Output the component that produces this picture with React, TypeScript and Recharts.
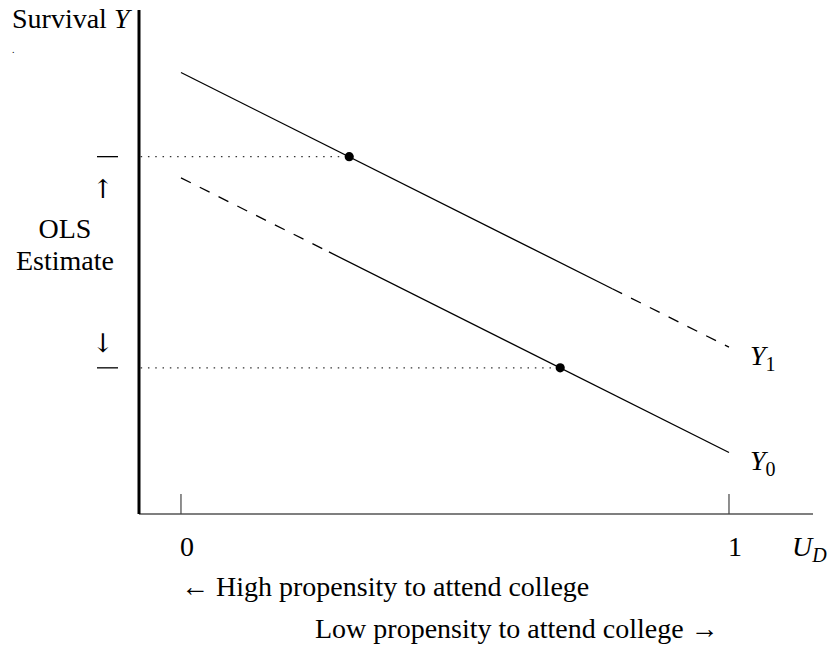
import {
  ComposedChart,
  Line,
  Scatter,
  XAxis,
  YAxis,
  ReferenceLine,
} from 'recharts';

// U_D axis: 0 = high propensity, 1 = low propensity
const uDomain: [number, number] = [-0.0766, 1.1533];
const uTicks = [0, 1];
const yDomain: [number, number] = [0, 10];

// potential outcome lines (survival), split where the drawing switches solid/dashed
const y1Solid = [
  { u: 0, v: 8.76 },
  { u: 0.787, v: 4.47 },
];
const y1Dashed = [
  { u: 0.787, v: 4.47 },
  { u: 1, v: 3.31 },
];
const y0Dashed = [
  { u: 0, v: 6.67 },
  { u: 0.27, v: 5.2 },
];
const y0Solid = [
  { u: 0.27, v: 5.2 },
  { u: 1, v: 1.22 },
];

// observed means used by OLS
const observed = [
  { u: 0.307, v: 7.09 },
  { u: 0.692, v: 2.9 },
];
const olsTicks = observed.map((d) => d.v);

const FONT = "'Liberation Serif', 'DejaVu Serif', serif";
const ARROW_FONT = "'DejaVu Serif', serif";
const W = 828;
const H = 650;

const txt = { fontFamily: FONT, fontSize: 28, fill: '#000' };

const XTick = ({ x, y, payload }: any) => (
  <g>
    <line x1={x} x2={x} y1={y - 20} y2={y} stroke="#444" strokeWidth={1.2} />
    <text x={x + 6} y={y + 42} textAnchor="middle" style={txt}>
      {payload.value}
    </text>
  </g>
);

const OlsTick = ({ y }: any) => (
  <line x1={97} x2={118} y1={y} y2={y} stroke="#000" strokeWidth={1.3} />
);

const Dot = ({ cx, cy }: any) => <circle cx={cx} cy={cy} r={4.6} fill="#000" />;

export default function App() {
  const lineProps = {
    type: 'linear' as const,
    dataKey: 'v',
    stroke: '#000',
    strokeWidth: 1.3,
    dot: false,
    activeDot: false,
    isAnimationActive: false,
  };

  return (
    <div style={{ position: 'absolute', left: 0, top: 0, width: W, height: H, background: '#fff' }}>
      <ComposedChart width={W} height={H} margin={{ top: 10, right: 15, left: 138, bottom: 96 }}>
        <XAxis
          type="number"
          dataKey="u"
          domain={uDomain}
          ticks={uTicks}
          interval={0}
          height={40}
          tickSize={0}
          tickMargin={0}
          tickLine={false}
          axisLine={{ stroke: '#555', strokeWidth: 1.3 }}
          tick={<XTick />}
          allowDataOverflow
        />
        <YAxis
          type="number"
          dataKey="v"
          domain={yDomain}
          ticks={olsTicks}
          interval={0}
          width={1}
          tickLine={false}
          axisLine={{ stroke: '#000', strokeWidth: 3 }}
          tick={<OlsTick />}
          allowDataOverflow
        />
        {observed.map((d, i) => (
          <ReferenceLine
            key={i}
            segment={[
              { x: uDomain[0] + 0.003, y: d.v },
              { x: d.u, y: d.v },
            ]}
            stroke="#333"
            strokeWidth={1.3}
            strokeDasharray="1.5 5.8"
          />
        ))}
        <Line {...lineProps} data={y1Solid} />
        <Line {...lineProps} data={y1Dashed} strokeDasharray="11 10" />
        <Line {...lineProps} data={y0Dashed} strokeDasharray="11 10" />
        <Line {...lineProps} data={y0Solid} />
        <Scatter data={observed} dataKey="v" shape={<Dot />} isAnimationActive={false} />
      </ComposedChart>

      <svg
        width={W}
        height={H}
        style={{ position: 'absolute', left: 0, top: 0, pointerEvents: 'none' }}
      >
        <text x={12} y={28} style={txt}>
          Survival <tspan fontStyle="italic">Y</tspan>
        </text>
        <text x={12} y={53} style={{ ...txt, fontSize: 10 }}>.</text>
        <text x={103} y={198} textAnchor="middle" style={{ ...txt, fontFamily: ARROW_FONT, fontSize: 26 }}>↑</text>
        <text x={65} y={238} textAnchor="middle" style={txt}>OLS</text>
        <text x={65} y={270} textAnchor="middle" style={txt}>Estimate</text>
        <text x={103} y={352} textAnchor="middle" style={{ ...txt, fontFamily: ARROW_FONT, fontSize: 26 }}>↓</text>
        <text x={750} y={365} style={txt}>
          <tspan fontStyle="italic">Y</tspan>
          <tspan dy={6} fontSize={20}>1</tspan>
        </text>
        <text x={750} y={470} style={txt}>
          <tspan fontStyle="italic">Y</tspan>
          <tspan dy={6} fontSize={20}>0</tspan>
        </text>
        <text x={792} y={556} style={txt}>
          <tspan fontStyle="italic">U</tspan>
          <tspan dy={6} fontSize={20} fontStyle="italic">D</tspan>
        </text>
        <text x={181} y={596} style={txt}>← High propensity to attend college</text>
        <text x={315} y={638} style={txt}>Low propensity to attend college →</text>
      </svg>
    </div>
  );
}
